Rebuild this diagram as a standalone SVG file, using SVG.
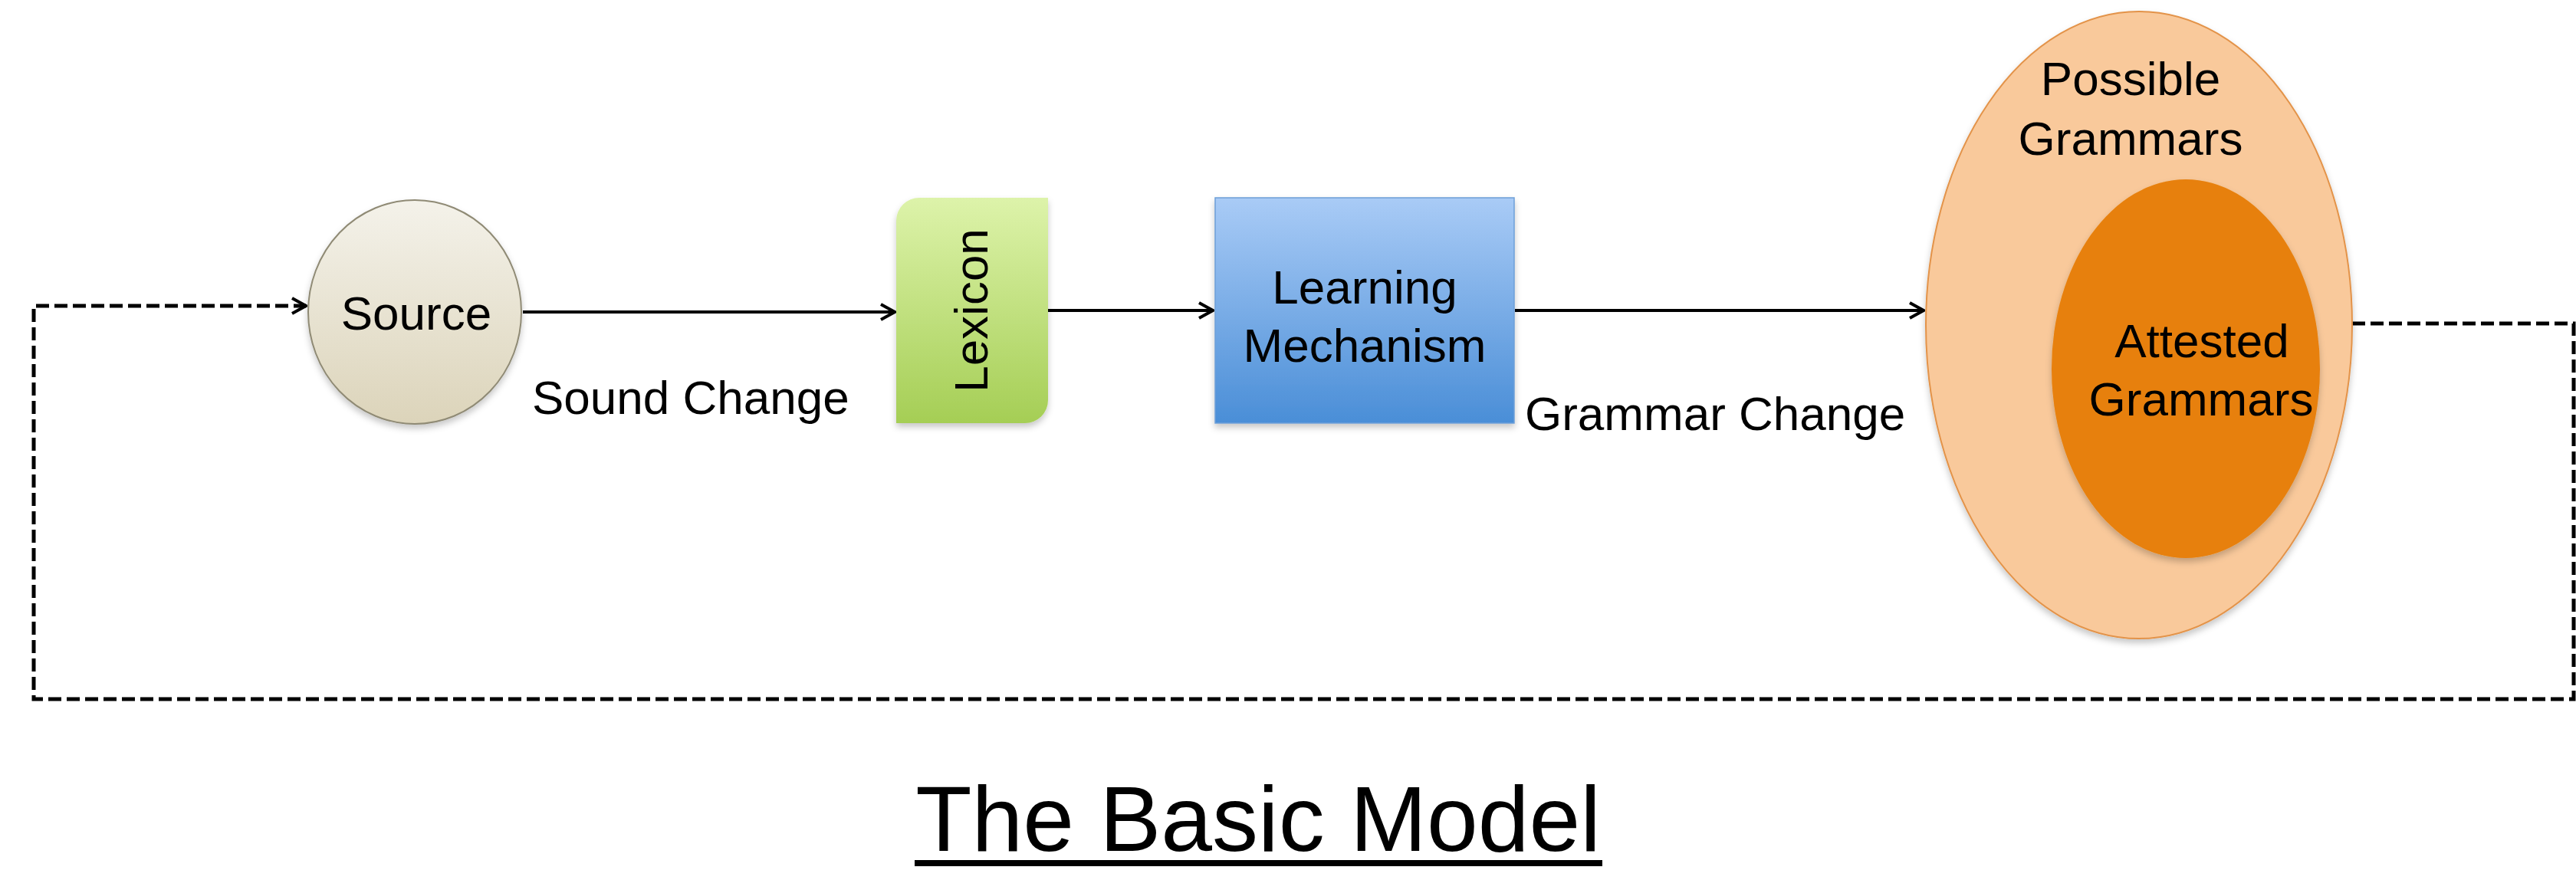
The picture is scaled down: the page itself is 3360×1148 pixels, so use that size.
<svg xmlns="http://www.w3.org/2000/svg" width="3360" height="1148" viewBox="0 0 3360 1148">
  <defs>
    <style>
      .lbl { font-family: "Liberation Sans", Arial, sans-serif; font-size: 62px; fill: #000; }
      .mid { text-anchor: middle; }
      .title { font-family: "Liberation Sans", Arial, sans-serif; font-size: 120px; fill: #000; text-anchor: middle; }
      .flow { fill: none; stroke: #000; stroke-width: 4; marker-end: url(#arrow); }
      .loop { fill: none; stroke: #000; stroke-width: 5; stroke-dasharray: 17 7; marker-end: url(#arrow); }
    </style>
    <linearGradient id="gSource" x1="0" y1="0" x2="0" y2="1">
      <stop offset="0" stop-color="#f4f2ea"/>
      <stop offset="1" stop-color="#dcd4ba"/>
    </linearGradient>
    <linearGradient id="gLexicon" x1="0" y1="0" x2="0" y2="1">
      <stop offset="0" stop-color="#ddf3aa"/>
      <stop offset="1" stop-color="#a5ce55"/>
    </linearGradient>
    <linearGradient id="gLearning" x1="0" y1="0" x2="0" y2="1">
      <stop offset="0" stop-color="#a9cbf6"/>
      <stop offset="1" stop-color="#4a8ed7"/>
    </linearGradient>
    <filter id="shadow" x="-10%" y="-10%" width="120%" height="125%">
      <feDropShadow dx="0" dy="5" stdDeviation="4" flood-color="#000" flood-opacity="0.22"/>
    </filter>
    <marker id="arrow" viewBox="0 0 12 12" refX="11" refY="6" markerWidth="24" markerHeight="24" markerUnits="userSpaceOnUse" orient="auto">
      <path d="M2,1 L11,6 L2,11" fill="none" stroke="#000" stroke-width="2" stroke-linejoin="miter"/>
    </marker>
  </defs>

  <rect width="3360" height="1148" fill="#fff"/>

  <!-- connectors -->
  <g id="connectors">
    <path class="flow" d="M682,407 L1167,407"/>
    <path class="flow" d="M1367,405 L1582,405"/>
    <path class="flow" d="M1976,405 L2509,405"/>
    <path class="loop" d="M3068,422 L3357,422 L3357,912 L44,912 L44,399 L399,399"/>
  </g>

  <!-- Source -->
  <g id="source">
    <ellipse cx="541" cy="407" rx="139" ry="146" fill="url(#gSource)" stroke="#8f8a74" stroke-width="2" filter="url(#shadow)"/>
    <text class="lbl mid" x="543" y="430">Source</text>
  </g>

  <!-- Lexicon: rounded on the top-left and bottom-right corners -->
  <g id="lexicon">
    <path d="M1199,258 L1367,258 L1367,522 A30,30 0 0 1 1337,552 L1169,552 L1169,288 A30,30 0 0 1 1199,258 Z" fill="url(#gLexicon)" filter="url(#shadow)"/>
    <text class="lbl mid" transform="translate(1288,405) rotate(-90)" x="0" y="0">Lexicon</text>
  </g>

  <!-- Learning Mechanism -->
  <g id="learning">
    <rect x="1585" y="258" width="390" height="294" fill="url(#gLearning)" stroke="#6d9fd8" stroke-width="1.5" filter="url(#shadow)"/>
    <text class="lbl mid" x="1780" y="396">Learning</text>
    <text class="lbl mid" x="1780" y="472">Mechanism</text>
  </g>

  <!-- Grammars: possible set containing the attested set -->
  <g id="grammars">
    <ellipse cx="2790" cy="424" rx="278" ry="409" fill="#f9c99b" stroke="#e39349" stroke-width="2" filter="url(#shadow)"/>
    <text class="lbl mid" x="2779" y="124">Possible</text>
    <text class="lbl mid" x="2779" y="202">Grammars</text>
    <ellipse cx="2851" cy="481" rx="175" ry="247" fill="#e7800b" filter="url(#shadow)"/>
    <text class="lbl mid" x="2872" y="466">Attested</text>
    <text class="lbl mid" x="2871" y="542">Grammars</text>
  </g>

  <!-- edge labels -->
  <g id="edge-labels">
    <text class="lbl" x="694" y="540">Sound Change</text>
    <text class="lbl" x="1989" y="561">Grammar Change</text>
  </g>

  <!-- title -->
  <g id="title">
    <text class="title" x="1641" y="1110">The Basic Model</text>
    <rect x="1193" y="1122" width="897" height="8" fill="#000"/>
  </g>
</svg>
